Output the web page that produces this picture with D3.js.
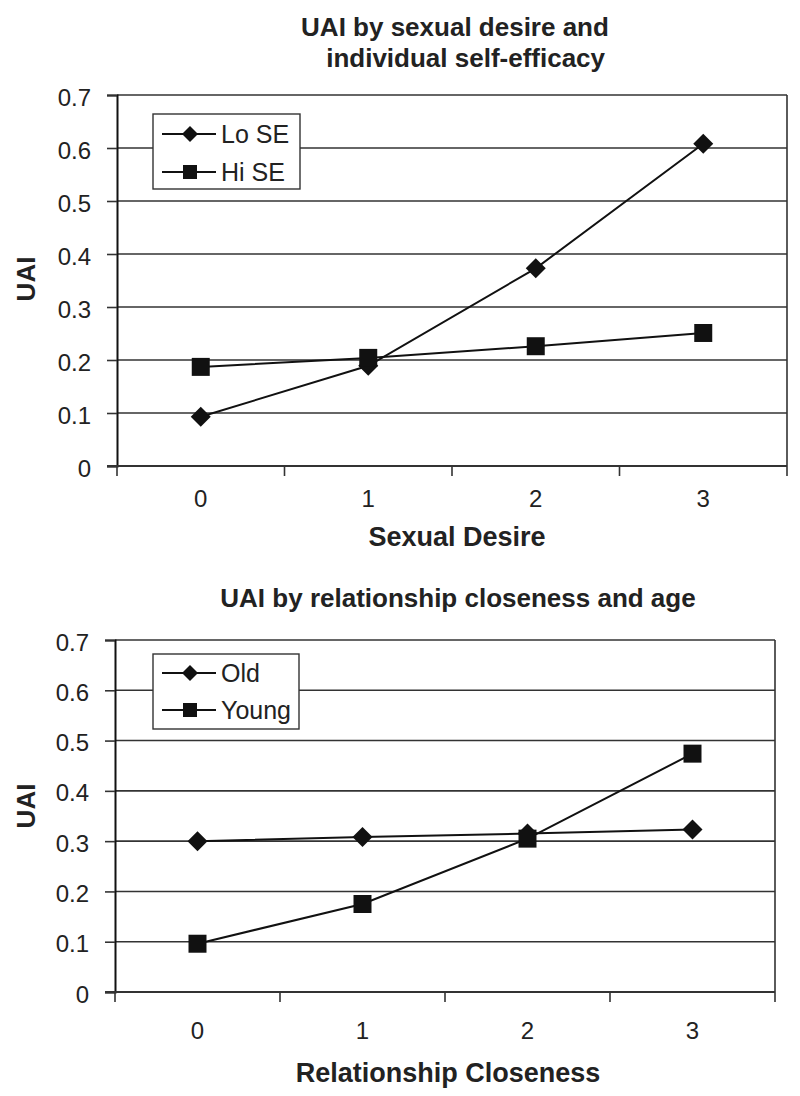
<!DOCTYPE html>
<html><head><meta charset="utf-8">
<script src="https://cdn.jsdelivr.net/npm/d3@7"></script>
<style>
html,body{margin:0;padding:0;background:#fff;}
svg{display:block;font-family:"Liberation Sans",Arial,Helvetica,sans-serif;}
</style></head>
<body>
<svg id="c" width="800" height="1096"></svg>
<script>
// ---- data ----
const categories = ["0", "1", "2", "3"];
const yTicks = [0, 0.1, 0.2, 0.3, 0.4, 0.5, 0.6, 0.7];

const chart1Title = ["UAI by sexual desire and", " individual self-efficacy"];
const chart1XLabel = "Sexual Desire";
const chart1Names = ["Lo SE", "Hi SE"];
const chart1LoSE = [0.093, 0.189, 0.373, 0.608];
const chart1HiSE = [0.187, 0.204, 0.226, 0.251];

const chart2Title = ["UAI by relationship closeness and age"];
const chart2XLabel = "Relationship Closeness";
const chart2Names = ["Old", "Young"];
const chart2Old = [0.300, 0.308, 0.315, 0.323];
const chart2Young = [0.096, 0.175, 0.305, 0.474];

const yLabel = "UAI";

// ---- layout ----
const svg = d3.select("#c");

function drawChart(cfg) {
  const g = svg.append("g");
  const x = d3.scaleBand().domain(categories).range([cfg.left, cfg.right]);
  const y = d3.scaleLinear().domain([0, 0.7]).range([cfg.bottom, cfg.top]);
  const cx = c => x(c) + x.bandwidth() / 2;

  // title
  cfg.title.forEach((t, i) => {
    g.append("text").attr("x", cfg.titleX[i]).attr("y", cfg.titleY[i])
      .attr("text-anchor", "middle").attr("font-weight", "bold")
      .attr("font-size", 26).attr("fill", "#222").style("white-space", "pre").text(t);
  });

  // gridlines
  g.append("g").selectAll("line").data(yTicks.filter(d => d > 0)).join("line")
    .attr("x1", cfg.left).attr("x2", cfg.right)
    .attr("y1", d => y(d)).attr("y2", d => y(d))
    .attr("stroke", "#333").attr("stroke-width", 1.6);

  // right border
  g.append("line").attr("x1", cfg.right).attr("x2", cfg.right)
    .attr("y1", y(0.7)).attr("y2", y(0)).attr("stroke", "#333").attr("stroke-width", 1.6);

  // y axis
  const yAxis = d3.axisLeft(y).tickValues(yTicks).tickSize(10).tickPadding(16)
    .tickFormat(d => d === 0 ? "0" : d3.format(".1f")(d));
  const ya = g.append("g").attr("transform", `translate(${cfg.left},0)`).call(yAxis);
  ya.select(".domain").attr("stroke", "#111").attr("stroke-width", 2);
  ya.selectAll(".tick line").attr("stroke", "#333").attr("stroke-width", 1.6);
  ya.selectAll("text").attr("font-size", 24).attr("fill", "#222")
    .attr("font-family", "Liberation Sans, Arial, sans-serif").attr("dy", "0.42em");

  // x axis line + boundary ticks
  const bounds = categories.map(c => x(c)).concat([cfg.right]);
  g.append("line").attr("x1", cfg.left - 10).attr("x2", cfg.right)
    .attr("y1", y(0)).attr("y2", y(0)).attr("stroke", "#333").attr("stroke-width", 1.8);
  g.append("g").selectAll("line").data(bounds).join("line")
    .attr("x1", d => d).attr("x2", d => d)
    .attr("y1", y(0)).attr("y2", y(0) + 10)
    .attr("stroke", "#333").attr("stroke-width", 1.6);
  // x tick labels via axis (no tick lines)
  const xa = g.append("g").attr("transform", `translate(0,${y(0)})`)
    .call(d3.axisBottom(x).tickSize(0).tickPadding(cfg.xPad));
  xa.select(".domain").remove();
  xa.selectAll("text").attr("font-size", 24).attr("fill", "#222")
    .attr("font-family", "Liberation Sans, Arial, sans-serif");

  // x label
  g.append("text").attr("x", cfg.xLabelX).attr("y", cfg.xLabelY)
    .attr("text-anchor", "middle").attr("font-weight", "bold").attr("font-size", 27)
    .attr("fill", "#222").text(cfg.xLabel);
  // y label
  g.append("text").attr("transform", `translate(${cfg.yLabelX},${cfg.yLabelY}) rotate(-90)`)
    .attr("text-anchor", "middle").attr("font-weight", "bold").attr("font-size", 26)
    .attr("fill", "#222").text(yLabel);

  const line = d3.line().x((d, i) => cx(categories[i])).y(d => y(d));
  const diamond = d3.symbol().type(d3.symbolDiamond2 || d3.symbolSquare2);

  cfg.series.forEach((s, si) => {
    g.append("path").datum(s.values).attr("d", line)
      .attr("fill", "none").attr("stroke", "#111").attr("stroke-width", 2);
  });
  cfg.series.forEach((s, si) => {
    const mk = g.append("g").selectAll("path").data(s.values).join("path")
      .attr("fill", "#111");
    if (s.shape === "diamond") {
      mk.attr("d", d => { return "M0,-10L10,0L0,10L-10,0Z"; })
        .attr("transform", (d, i) => `translate(${cx(categories[i])},${y(d)})`);
    } else {
      mk.attr("d", "M-9,-9H9V9H-9Z")
        .attr("transform", (d, i) => `translate(${cx(categories[i])},${y(d)})`);
    }
  });

  // legend
  const L = cfg.legend;
  const lg = g.append("g");
  lg.append("rect").attr("x", L.x).attr("y", L.y).attr("width", L.w).attr("height", L.h)
    .attr("fill", "#fff").attr("stroke", "#333").attr("stroke-width", 1.4);
  cfg.series.forEach((s, i) => {
    const ry = L.y + L.rows[i];
    lg.append("line").attr("x1", L.x + 9).attr("x2", L.x + 63).attr("y1", ry).attr("y2", ry)
      .attr("stroke", "#111").attr("stroke-width", 2);
    const mx = L.x + 37;
    if (s.shape === "diamond") {
      lg.append("path").attr("d", "M0,-8L8,0L0,8L-8,0Z").attr("transform", `translate(${mx},${ry})`).attr("fill", "#111");
    } else {
      lg.append("path").attr("d", "M-7,-7H7V7H-7Z").attr("transform", `translate(${mx},${ry})`).attr("fill", "#111");
    }
    lg.append("text").attr("x", L.x + 68).attr("y", ry).attr("dy", "0.36em")
      .attr("font-size", 25).attr("fill", "#222").text(s.name);
  });
}

drawChart({
  left: 117, right: 787, top: 95, bottom: 466,
  title: chart1Title, titleX: [455, 462], titleY: [36, 67],
  xLabel: chart1XLabel, xLabelX: 457, xLabelY: 546, xPad: 24,
  yLabelX: 35, yLabelY: 279,
  series: [
    { name: chart1Names[0], values: chart1LoSE, shape: "diamond" },
    { name: chart1Names[1], values: chart1HiSE, shape: "square" }
  ],
  legend: { x: 153, y: 114, w: 147, h: 75, rows: [20, 58] }
});

drawChart({
  left: 115, right: 775, top: 640, bottom: 992,
  title: chart2Title, titleX: [458], titleY: [607],
  xLabel: chart2XLabel, xLabelX: 448, xLabelY: 1082, xPad: 30,
  yLabelX: 35, yLabelY: 806,
  series: [
    { name: chart2Names[0], values: chart2Old, shape: "diamond" },
    { name: chart2Names[1], values: chart2Young, shape: "square" }
  ],
  legend: { x: 153, y: 654, w: 146, h: 75, rows: [19, 56] }
});
</script>
</body></html>
